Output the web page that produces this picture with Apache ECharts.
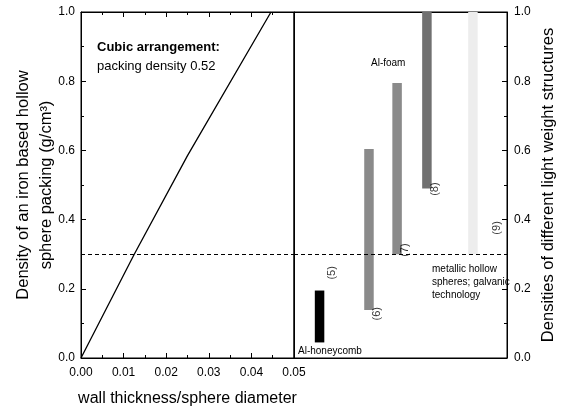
<!DOCTYPE html>
<html><head><meta charset="utf-8">
<script src="https://cdn.jsdelivr.net/npm/echarts@6/dist/echarts.min.js"></script>
<style>html,body{margin:0;padding:0;background:#fff}#c{width:561px;height:410px}</style>
</head><body><div id="c"></div>
<script>
// Left panel: density of hollow sphere packing vs wall thickness/sphere diameter
const wallRatio = [0, 0.0125, 0.025, 0.0446];
const packingDensity = [0, 0.30, 0.585, 1.0];
// Right panel: density ranges of light weight structures
const structX = [0.12, 0.352, 0.484, 0.624, 0.84];
const structLow = [0.045, 0.139, 0.30, 0.49, 0.30];
const structHigh = [0.195, 0.604, 0.795, 1.0, 1.0];
const structFill = ['#000000', '#8a8a8a', '#8a8a8a', '#707070', '#ededed'];
const refDensity = 0.3;
const xTicks = ['0.00', '0.01', '0.02', '0.03', '0.04', '0.05'];
// Reference labels (5)..(9)
const refLabels = ['(5)', '(6)', '(7)', '(8)', '(9)'];
const refLabelX = [0.178, 0.39, 0.521, 0.662, 0.953];
const refLabelY = [0.246, 0.128, 0.312, 0.488, 0.376];

const FONT = 'Liberation Sans';
const chart = echarts.init(document.getElementById('c'));

function ax(extra) {
  return Object.assign({
    nameMoveOverlap: false,
    axisLine: {show: true, onZero: false, lineStyle: {color: '#000', width: 1}},
    axisTick: {show: true, inside: true, length: 5, lineStyle: {color: '#000', width: 1}},
    minorTick: {show: true, splitNumber: 2, length: 3, lineStyle: {color: '#000', width: 1}},
    splitLine: {show: false}
  }, extra);
}
function plain(extra) {
  return Object.assign({
    axisLine: {show: true, onZero: false, lineStyle: {color: '#000', width: 1}},
    axisTick: {show: false}, axisLabel: {show: false}, splitLine: {show: false}
  }, extra);
}

chart.setOption({
  animation: false,
  backgroundColor: '#fff',
  grid: [
    {left: 81, top: 12, width: 213, height: 346, outerBoundsMode: 'none', containLabel: false,
      show: true, borderColor: '#000', borderWidth: 1, backgroundColor: 'transparent'},
    {left: 294, top: 12, width: 213, height: 346, outerBoundsMode: 'none', containLabel: false,
      show: true, borderColor: '#000', borderWidth: 1, backgroundColor: 'transparent'}
  ],
  xAxis: [
    ax({gridIndex: 0, type: 'value', min: 0, max: 0.05, interval: 0.01, position: 'bottom',
      axisLabel: {color: '#000', fontFamily: FONT, fontSize: 12, margin: 9,
        formatter: (v) => xTicks[Math.round(v * 100)]},
      name: 'wall thickness/sphere diameter', nameLocation: 'middle', nameGap: 33,
      nameTextStyle: {color: '#000', fontFamily: FONT, fontSize: 16}}),
    ax({gridIndex: 0, type: 'value', min: 0, max: 0.05, interval: 0.01, position: 'top',
      axisLabel: {show: false}}),
    plain({gridIndex: 1, type: 'value', min: 0, max: 1, position: 'bottom'}),
    plain({gridIndex: 1, type: 'value', min: 0, max: 1, position: 'top'})
  ],
  yAxis: [
    ax({gridIndex: 0, type: 'value', min: 0, max: 1, interval: 0.2, position: 'left',
      axisLabel: {color: '#000', fontFamily: FONT, fontSize: 12, margin: 6,
        formatter: (v) => v.toFixed(1)},
      name: 'Density of an iron based hollow\nsphere packing (g/cm³)',
      nameLocation: 'middle', nameRotate: 90, nameGap: 23,
      nameTextStyle: {color: '#000', fontFamily: FONT, fontSize: 16.5, lineHeight: 23}}),
    plain({gridIndex: 1, type: 'value', min: 0, max: 1, position: 'left'}),
    ax({gridIndex: 1, type: 'value', min: 0, max: 1, interval: 0.2, position: 'right',
      axisLabel: {color: '#000', fontFamily: FONT, fontSize: 12, margin: 7,
        formatter: (v) => v.toFixed(1)},
      name: 'Densities of different light weight structures',
      nameLocation: 'middle', nameRotate: 90, nameGap: 33,
      nameTextStyle: {color: '#000', fontFamily: FONT, fontSize: 16.5}})
  ],
  series: [
    {
      type: 'line', xAxisIndex: 0, yAxisIndex: 0, symbol: 'none', smooth: false,
      data: wallRatio.map((x, i) => [x, packingDensity[i]]),
      lineStyle: {color: '#000', width: 1.3},
      markLine: {silent: true, symbol: 'none', label: {show: false},
        lineStyle: {color: '#000', type: [4, 3], width: 1},
        data: [{yAxis: refDensity}]}
    },
    {
      type: 'custom', xAxisIndex: 2, yAxisIndex: 2,
      data: structX.map((x, i) => [x, structLow[i], structHigh[i], i]),
      renderItem: (params, api) => {
        const lo = api.coord([api.value(0), api.value(1)]);
        const hi = api.coord([api.value(0), api.value(2)]);
        const w = 9.5;
        return {type: 'rect', shape: {x: lo[0] - w / 2, y: hi[1], width: w, height: lo[1] - hi[1]},
          style: {fill: structFill[api.value(3)]}};
      },
      markLine: {silent: true, symbol: 'none', label: {show: false},
        lineStyle: {color: '#000', type: [4, 3], width: 1},
        data: [{yAxis: refDensity}]}
    },
    {
      type: 'scatter', xAxisIndex: 2, yAxisIndex: 2, symbolSize: 0,
      data: refLabelX.map((x, i) => ({value: [x, refLabelY[i]], name: refLabels[i]})),
      label: {show: true, position: 'inside', rotate: 90, formatter: '{b}',
        color: '#000', fontFamily: FONT, fontSize: 11}
    }
  ],
  graphic: [
    {type: 'text', left: 97, top: 41, style: {text: 'Cubic arrangement:', fontFamily: FONT, fontSize: 13, fontWeight: 'bold', fill: '#000'}},
    {type: 'text', left: 97, top: 60, style: {text: 'packing density 0.52', fontFamily: FONT, fontSize: 13, fill: '#000'}},
    {type: 'text', left: 371, top: 58, style: {text: 'Al-foam', fontFamily: FONT, fontSize: 10, fill: '#000'}},
    {type: 'text', left: 432, top: 263, style: {text: 'metallic hollow\nspheres; galvanic\ntechnology', fontFamily: FONT, fontSize: 10, lineHeight: 13, fill: '#000'}},
    {type: 'text', left: 298, top: 346, style: {text: 'Al-honeycomb', fontFamily: FONT, fontSize: 10, fill: '#000'}}
  ]
});
</script></body></html>
